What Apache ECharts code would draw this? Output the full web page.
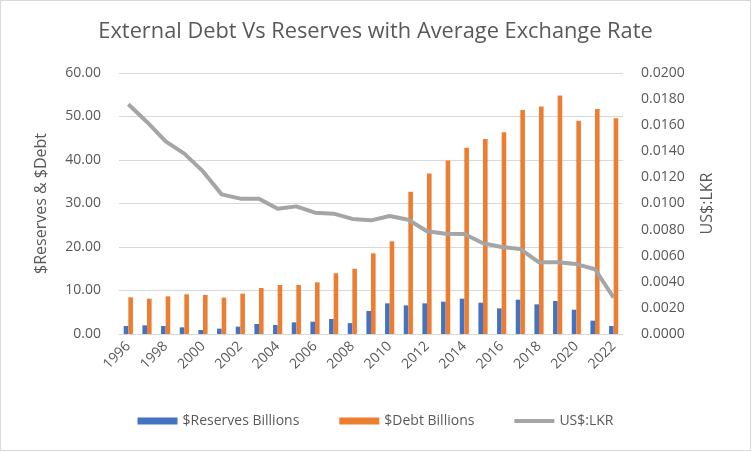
<!DOCTYPE html>
<html>
<head>
<meta charset="utf-8">
<script src="https://cdn.jsdelivr.net/npm/echarts@6/dist/echarts.min.js"></script>
<style>
html, body { margin: 0; padding: 0; background: #fff; }
#chart { width: 749px; height: 449px; border: 1px solid #d9d9d9; }
</style>
</head>
<body>
<div id="chart"></div>
<script>
// data
var years = ['1996','1997','1998','1999','2000','2001','2002','2003','2004','2005','2006','2007','2008','2009',
	'2010','2011','2012','2013','2014','2015','2016','2017','2018','2019','2020','2021','2022'];
var reserves = [1.84, 1.99, 1.84, 1.53, 0.92, 1.23, 1.69, 2.30, 2.07, 2.68, 2.84, 3.45, 2.50, 5.29,
	7.05, 6.59, 7.05, 7.43, 8.12, 7.20, 5.90, 7.89, 6.82, 7.59, 5.59, 3.07, 1.84];
var debt = [8.43, 8.12, 8.66, 9.12, 8.97, 8.35, 9.27, 10.57, 11.26, 11.26, 11.88, 13.95, 15.0, 18.54,
	21.3, 32.7, 36.9, 39.9, 42.8, 44.8, 46.4, 51.5, 52.3, 54.8, 49.0, 51.7, 49.6];
var rate = [0.0176, 0.01625, 0.01476, 0.01382, 0.01246, 0.0107, 0.01037, 0.01037, 0.0096, 0.00978, 0.0093, 0.00922, 0.00882, 0.00871,
	0.00904, 0.00876, 0.00787, 0.00769, 0.00766, 0.00695, 0.00667, 0.00651, 0.00549, 0.00549, 0.00536, 0.00496, 0.00278];

var font = "'Open Sans', 'Noto Sans', sans-serif";
var txt = '#595959';

var chart = echarts.init(document.getElementById('chart'));
chart.setOption({
	animation: false,
	textStyle: { fontFamily: font, color: txt },
	title: {
		text: 'External Debt Vs Reserves with Average Exchange Rate',
		left: 'center',
		top: 15,
		textStyle: { fontFamily: font, fontSize: 21.8, fontWeight: 'normal', color: txt }
	},
	grid: { left: 118, right: 127, top: 72, bottom: 116 },
	legend: {
		bottom: 17,
		left: 'center',
		itemGap: 40,
		itemWidth: 40,
		itemHeight: 7,
		textStyle: { fontFamily: font, fontSize: 14, color: txt },
		data: [
			{ name: '$Reserves Billions', icon: 'rect' },
			{ name: '$Debt Billions', icon: 'rect' },
			{ name: 'US$:LKR', icon: 'path://M0,0 L40,0 L40,4 L0,4 Z' }
		]
	},
	xAxis: {
		type: 'category',
		data: years,
		axisLine: { lineStyle: { color: '#d9d9d9' } },
		axisTick: { show: false },
		axisLabel: { interval: 1, rotate: 45, fontSize: 14, color: txt, margin: 10, fontFamily: font }
	},
	yAxis: [
		{
			type: 'value',
			min: 0, max: 60, interval: 10,
			name: '$Reserves & $Debt',
			nameLocation: 'middle',
			nameGap: 70,
			nameTextStyle: { fontSize: 16, color: txt, fontFamily: font },
			axisLabel: { formatter: function (v) { return v.toFixed(2); }, fontSize: 14, color: txt, margin: 18, fontFamily: font },
			splitLine: { lineStyle: { color: '#d9d9d9' } },
			axisLine: { show: false },
			axisTick: { show: false }
		},
		{
			type: 'value',
			min: 0, max: 0.02, interval: 0.002,
			name: 'US$:LKR',
			nameLocation: 'middle',
			nameRotate: 90,
			nameGap: 76,
			nameTextStyle: { fontSize: 16, color: txt, fontFamily: font },
			axisLabel: { formatter: function (v) { return v.toFixed(4); }, fontSize: 14, color: txt, margin: 18, fontFamily: font },
			splitLine: { show: false },
			axisLine: { show: false },
			axisTick: { show: false }
		}
	],
	series: [
		{
			name: '$Reserves Billions',
			type: 'bar',
			data: reserves,
			barWidth: 4.6,
			barGap: '0%',
			itemStyle: { color: '#4472c4' }
		},
		{
			name: '$Debt Billions',
			type: 'bar',
			data: debt,
			barWidth: 4.6,
			barGap: '0%',
			itemStyle: { color: '#ed7d31' }
		},
		{
			name: 'US$:LKR',
			type: 'line',
			yAxisIndex: 1,
			data: rate,
			symbol: 'none',
			lineStyle: { color: '#a5a5a5', width: 4 },
			itemStyle: { color: '#a5a5a5' }
		}
	]
});
</script>
</body>
</html>
